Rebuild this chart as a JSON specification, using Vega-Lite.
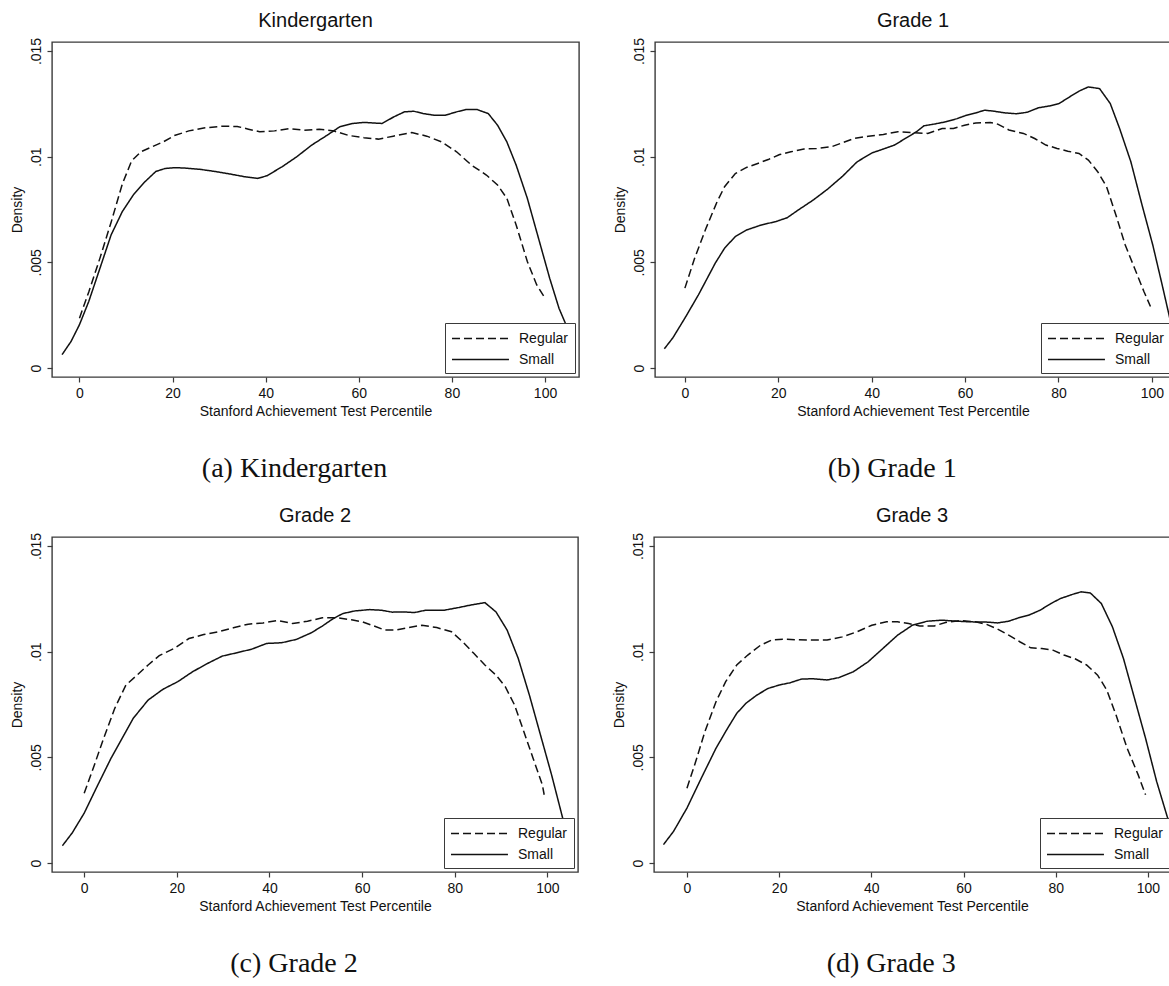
{
"$schema": "https://vega.github.io/schema/vega-lite/v6.json",
"background": "white",
"padding": {"left": 9, "top": 10, "right": 0, "bottom": 0},
"config": {
  "font": "Liberation Sans",
  "view": {"stroke": "#3a3a3a", "strokeWidth": 1.4},
  "axis": {"domain": false, "grid": false, "tickColor": "#3a3a3a", "tickSize": 5, "tickWidth": 1.2, "labelFontSize": 14, "labelColor": "#111", "labelFont": "Liberation Sans", "labelPadding": 4, "titleFontSize": 14, "titleFontWeight": "normal", "titleColor": "#111", "titleFont": "Liberation Sans", "titlePadding": 4, "labelFlush": false, "labelOverlap": false},
  "axisY": {"labelAngle": 270, "labelAlign": "center", "labelBaseline": "bottom", "titlePadding": 5},
  "legend": {"symbolType": "M-1,0H5.7", "symbolSize": 289, "symbolStrokeWidth": 1.4, "symbolStrokeColor": "#111", "symbolFillColor": "transparent", "labelFontSize": 14, "labelFont": "Liberation Sans", "labelColor": "#111", "strokeColor": "#3a3a3a", "fillColor": "white", "padding": 6, "rowPadding": 4, "labelOffset": 49, "cornerRadius": 0}
},
"datasets": {
  "a": [
    {"g":"Small","x":-3.75,"y":0.00063},{"g":"Small","x":-1.8,"y":0.00126},{"g":"Small","x":0,"y":0.00205},{"g":"Small","x":2,"y":0.00315},{"g":"Small","x":4.4,"y":0.00472},{"g":"Small","x":6.8,"y":0.0063},{"g":"Small","x":9.2,"y":0.0074},{"g":"Small","x":11.6,"y":0.0082},{"g":"Small","x":14,"y":0.0088},{"g":"Small","x":16.4,"y":0.0093},{"g":"Small","x":18.4,"y":0.00944},{"g":"Small","x":20.4,"y":0.00948},{"g":"Small","x":22.7,"y":0.00946},{"g":"Small","x":25.9,"y":0.0094},{"g":"Small","x":29.1,"y":0.0093},{"g":"Small","x":32.3,"y":0.00918},{"g":"Small","x":35.5,"y":0.00905},{"g":"Small","x":38.3,"y":0.00897},{"g":"Small","x":40.3,"y":0.0091},{"g":"Small","x":43.5,"y":0.00952},{"g":"Small","x":46.7,"y":0.01},{"g":"Small","x":49.9,"y":0.01055},{"g":"Small","x":53.1,"y":0.011},{"g":"Small","x":55.9,"y":0.01141},{"g":"Small","x":58.7,"y":0.01157},{"g":"Small","x":61.1,"y":0.01162},{"g":"Small","x":65,"y":0.01157},{"g":"Small","x":67.5,"y":0.01188},{"g":"Small","x":69.8,"y":0.01212},{"g":"Small","x":71.8,"y":0.01215},{"g":"Small","x":73.8,"y":0.01204},{"g":"Small","x":76.2,"y":0.01196},{"g":"Small","x":78.6,"y":0.01196},{"g":"Small","x":81,"y":0.01212},{"g":"Small","x":83,"y":0.01223},{"g":"Small","x":85.4,"y":0.01223},{"g":"Small","x":87.8,"y":0.01204},{"g":"Small","x":89.8,"y":0.01149},{"g":"Small","x":91.8,"y":0.0107},{"g":"Small","x":93.8,"y":0.0096},{"g":"Small","x":96.2,"y":0.00803},{"g":"Small","x":98.6,"y":0.00614},{"g":"Small","x":101,"y":0.00425},{"g":"Small","x":103,"y":0.00283},{"g":"Small","x":104.5,"y":0.00205},{"g":"Small","x":106,"y":0.0013},
    {"g":"Regular","x":0,"y":0.00236},{"g":"Regular","x":2,"y":0.0036},{"g":"Regular","x":4.4,"y":0.0052},{"g":"Regular","x":6.8,"y":0.0069},{"g":"Regular","x":9.2,"y":0.0087},{"g":"Regular","x":11.2,"y":0.0098},{"g":"Regular","x":13.2,"y":0.01023},{"g":"Regular","x":15.6,"y":0.01047},{"g":"Regular","x":18,"y":0.0107},{"g":"Regular","x":20.4,"y":0.011},{"g":"Regular","x":23.5,"y":0.01122},{"g":"Regular","x":26.7,"y":0.01136},{"g":"Regular","x":30.7,"y":0.01144},{"g":"Regular","x":33.9,"y":0.01143},{"g":"Regular","x":36.3,"y":0.0113},{"g":"Regular","x":38.7,"y":0.01118},{"g":"Regular","x":41.9,"y":0.01122},{"g":"Regular","x":45.1,"y":0.01133},{"g":"Regular","x":48.3,"y":0.01125},{"g":"Regular","x":51.5,"y":0.0113},{"g":"Regular","x":54.7,"y":0.01121},{"g":"Regular","x":57.9,"y":0.011},{"g":"Regular","x":61.1,"y":0.0109},{"g":"Regular","x":64.2,"y":0.01083},{"g":"Regular","x":67.4,"y":0.01097},{"g":"Regular","x":71.4,"y":0.01114},{"g":"Regular","x":74.6,"y":0.01097},{"g":"Regular","x":77.8,"y":0.0107},{"g":"Regular","x":81,"y":0.01023},{"g":"Regular","x":84.2,"y":0.0096},{"g":"Regular","x":87.4,"y":0.00913},{"g":"Regular","x":89.8,"y":0.00866},{"g":"Regular","x":91.8,"y":0.00803},{"g":"Regular","x":93.8,"y":0.00677},{"g":"Regular","x":96.2,"y":0.00504},{"g":"Regular","x":98.2,"y":0.00394},{"g":"Regular","x":99.8,"y":0.00338}
  ],
  "b": [
    {"g":"Small","x":-4.4,"y":0.00091},{"g":"Small","x":-2.6,"y":0.00142},{"g":"Small","x":0,"y":0.00236},{"g":"Small","x":2.9,"y":0.00346},{"g":"Small","x":6.5,"y":0.00496},{"g":"Small","x":8.5,"y":0.00567},{"g":"Small","x":10.8,"y":0.00622},{"g":"Small","x":13.2,"y":0.00653},{"g":"Small","x":16.4,"y":0.00677},{"g":"Small","x":19.5,"y":0.00693},{"g":"Small","x":21.9,"y":0.00711},{"g":"Small","x":24.3,"y":0.00748},{"g":"Small","x":27.5,"y":0.00795},{"g":"Small","x":30.6,"y":0.00847},{"g":"Small","x":33.8,"y":0.00908},{"g":"Small","x":36.9,"y":0.00976},{"g":"Small","x":40.1,"y":0.01018},{"g":"Small","x":42.5,"y":0.01036},{"g":"Small","x":44.9,"y":0.01055},{"g":"Small","x":47.2,"y":0.01086},{"g":"Small","x":49.6,"y":0.01118},{"g":"Small","x":51.2,"y":0.01146},{"g":"Small","x":53.6,"y":0.01155},{"g":"Small","x":55.9,"y":0.01165},{"g":"Small","x":58.3,"y":0.0118},{"g":"Small","x":60.3,"y":0.01196},{"g":"Small","x":62.3,"y":0.01207},{"g":"Small","x":64.2,"y":0.0122},{"g":"Small","x":66.2,"y":0.01215},{"g":"Small","x":68.6,"y":0.01207},{"g":"Small","x":71,"y":0.01203},{"g":"Small","x":73.3,"y":0.0121},{"g":"Small","x":75.7,"y":0.01231},{"g":"Small","x":78.1,"y":0.0124},{"g":"Small","x":80.1,"y":0.01251},{"g":"Small","x":82.4,"y":0.01283},{"g":"Small","x":84.4,"y":0.0131},{"g":"Small","x":86.4,"y":0.0133},{"g":"Small","x":88.8,"y":0.01322},{"g":"Small","x":91.1,"y":0.01251},{"g":"Small","x":93.1,"y":0.01133},{"g":"Small","x":95.5,"y":0.00976},{"g":"Small","x":97.9,"y":0.00771},{"g":"Small","x":100.2,"y":0.00582},{"g":"Small","x":102.2,"y":0.00394},{"g":"Small","x":104,"y":0.0022},{"g":"Small","x":105.5,"y":0.0013},
    {"g":"Regular","x":0,"y":0.00378},{"g":"Regular","x":2.1,"y":0.0052},{"g":"Regular","x":4.5,"y":0.0066},{"g":"Regular","x":6.9,"y":0.00787},{"g":"Regular","x":8.5,"y":0.00858},{"g":"Regular","x":10.8,"y":0.0092},{"g":"Regular","x":13.2,"y":0.00949},{"g":"Regular","x":15.6,"y":0.00968},{"g":"Regular","x":18,"y":0.00988},{"g":"Regular","x":20.3,"y":0.0101},{"g":"Regular","x":22.7,"y":0.01023},{"g":"Regular","x":25.5,"y":0.01036},{"g":"Regular","x":28.2,"y":0.01039},{"g":"Regular","x":31.4,"y":0.01047},{"g":"Regular","x":33.8,"y":0.01066},{"g":"Regular","x":36.2,"y":0.01086},{"g":"Regular","x":39.3,"y":0.01097},{"g":"Regular","x":42.5,"y":0.01105},{"g":"Regular","x":45.6,"y":0.01118},{"g":"Regular","x":48.8,"y":0.01113},{"g":"Regular","x":52,"y":0.0111},{"g":"Regular","x":55.1,"y":0.01133},{"g":"Regular","x":57.5,"y":0.01133},{"g":"Regular","x":59.9,"y":0.01149},{"g":"Regular","x":62.3,"y":0.01159},{"g":"Regular","x":65.4,"y":0.01162},{"g":"Regular","x":67,"y":0.01154},{"g":"Regular","x":69.4,"y":0.01126},{"g":"Regular","x":72.5,"y":0.0111},{"g":"Regular","x":74.9,"y":0.01086},{"g":"Regular","x":77.3,"y":0.01055},{"g":"Regular","x":79.7,"y":0.01039},{"g":"Regular","x":82,"y":0.01026},{"g":"Regular","x":84.4,"y":0.01015},{"g":"Regular","x":86.4,"y":0.00984},{"g":"Regular","x":88.4,"y":0.00929},{"g":"Regular","x":90.3,"y":0.00858},{"g":"Regular","x":92.3,"y":0.00724},{"g":"Regular","x":94.3,"y":0.00582},{"g":"Regular","x":96.3,"y":0.00472},{"g":"Regular","x":98.3,"y":0.00362},{"g":"Regular","x":99.7,"y":0.00291}
  ],
  "c": [
    {"g":"Small","x":-4.7,"y":0.00082},{"g":"Small","x":-2.6,"y":0.00142},{"g":"Small","x":0,"y":0.00236},{"g":"Small","x":2.6,"y":0.00354},{"g":"Small","x":5.8,"y":0.00496},{"g":"Small","x":9,"y":0.00622},{"g":"Small","x":10.6,"y":0.00685},{"g":"Small","x":13.8,"y":0.00771},{"g":"Small","x":17,"y":0.00822},{"g":"Small","x":20.2,"y":0.00858},{"g":"Small","x":23.4,"y":0.00905},{"g":"Small","x":26.6,"y":0.00944},{"g":"Small","x":29.8,"y":0.00979},{"g":"Small","x":33,"y":0.00995},{"g":"Small","x":36.2,"y":0.01012},{"g":"Small","x":39.4,"y":0.01039},{"g":"Small","x":42.6,"y":0.01042},{"g":"Small","x":45.8,"y":0.01058},{"g":"Small","x":49,"y":0.01089},{"g":"Small","x":51.4,"y":0.01121},{"g":"Small","x":53.8,"y":0.01157},{"g":"Small","x":55.8,"y":0.0118},{"g":"Small","x":58.5,"y":0.01193},{"g":"Small","x":61.7,"y":0.01199},{"g":"Small","x":64.1,"y":0.01196},{"g":"Small","x":66.5,"y":0.01187},{"g":"Small","x":68.9,"y":0.01188},{"g":"Small","x":71.3,"y":0.01185},{"g":"Small","x":73.7,"y":0.01196},{"g":"Small","x":77.7,"y":0.01196},{"g":"Small","x":80.9,"y":0.01209},{"g":"Small","x":83.3,"y":0.0122},{"g":"Small","x":86.5,"y":0.01232},{"g":"Small","x":88.9,"y":0.01188},{"g":"Small","x":91.3,"y":0.01102},{"g":"Small","x":93.7,"y":0.00968},{"g":"Small","x":96.1,"y":0.00795},{"g":"Small","x":98.5,"y":0.00606},{"g":"Small","x":100.9,"y":0.00417},{"g":"Small","x":103.3,"y":0.00212},{"g":"Small","x":104.8,"y":0.0012},
    {"g":"Regular","x":0,"y":0.0033},{"g":"Regular","x":2.2,"y":0.00464},{"g":"Regular","x":4.2,"y":0.0059},{"g":"Regular","x":6.6,"y":0.00732},{"g":"Regular","x":9,"y":0.00842},{"g":"Regular","x":11.4,"y":0.00889},{"g":"Regular","x":13.8,"y":0.00937},{"g":"Regular","x":16.2,"y":0.00981},{"g":"Regular","x":19.4,"y":0.01015},{"g":"Regular","x":22.6,"y":0.01062},{"g":"Regular","x":25.8,"y":0.01081},{"g":"Regular","x":29,"y":0.01094},{"g":"Regular","x":32.2,"y":0.01113},{"g":"Regular","x":35.4,"y":0.0113},{"g":"Regular","x":38.6,"y":0.01136},{"g":"Regular","x":41.8,"y":0.01147},{"g":"Regular","x":45,"y":0.01133},{"g":"Regular","x":48.2,"y":0.01144},{"g":"Regular","x":51.4,"y":0.0116},{"g":"Regular","x":54.6,"y":0.0116},{"g":"Regular","x":57.7,"y":0.01151},{"g":"Regular","x":60.1,"y":0.01141},{"g":"Regular","x":62.5,"y":0.01122},{"g":"Regular","x":64.9,"y":0.01102},{"g":"Regular","x":67.3,"y":0.01102},{"g":"Regular","x":69.7,"y":0.01113},{"g":"Regular","x":72.9,"y":0.01125},{"g":"Regular","x":76.1,"y":0.01114},{"g":"Regular","x":79.3,"y":0.01094},{"g":"Regular","x":81.7,"y":0.01047},{"g":"Regular","x":84.1,"y":0.00992},{"g":"Regular","x":86.5,"y":0.00937},{"g":"Regular","x":88.9,"y":0.00889},{"g":"Regular","x":90.9,"y":0.00834},{"g":"Regular","x":92.9,"y":0.00748},{"g":"Regular","x":94.9,"y":0.00622},{"g":"Regular","x":96.9,"y":0.00496},{"g":"Regular","x":98.9,"y":0.0037},{"g":"Regular","x":99.3,"y":0.00323}
  ],
  "d": [
    {"g":"Small","x":-5.1,"y":0.00087},{"g":"Small","x":-2.9,"y":0.0015},{"g":"Small","x":0,"y":0.0026},{"g":"Small","x":3.1,"y":0.00401},{"g":"Small","x":6.3,"y":0.00543},{"g":"Small","x":8.8,"y":0.00637},{"g":"Small","x":10.8,"y":0.00708},{"g":"Small","x":12.8,"y":0.00756},{"g":"Small","x":15.2,"y":0.00795},{"g":"Small","x":17.6,"y":0.00826},{"g":"Small","x":20,"y":0.00842},{"g":"Small","x":22.4,"y":0.00853},{"g":"Small","x":24.8,"y":0.0087},{"g":"Small","x":27.2,"y":0.00872},{"g":"Small","x":30.4,"y":0.00866},{"g":"Small","x":32.9,"y":0.00877},{"g":"Small","x":36.1,"y":0.00905},{"g":"Small","x":39.3,"y":0.00952},{"g":"Small","x":42.5,"y":0.01015},{"g":"Small","x":45.7,"y":0.01078},{"g":"Small","x":48.9,"y":0.01125},{"g":"Small","x":52.1,"y":0.01144},{"g":"Small","x":55.3,"y":0.01149},{"g":"Small","x":58.6,"y":0.01144},{"g":"Small","x":61.8,"y":0.01141},{"g":"Small","x":65,"y":0.0114},{"g":"Small","x":67.4,"y":0.01136},{"g":"Small","x":69.8,"y":0.01144},{"g":"Small","x":72.2,"y":0.01162},{"g":"Small","x":74.2,"y":0.01173},{"g":"Small","x":76.6,"y":0.01196},{"g":"Small","x":79,"y":0.01228},{"g":"Small","x":81,"y":0.01251},{"g":"Small","x":83.5,"y":0.0127},{"g":"Small","x":85.5,"y":0.01283},{"g":"Small","x":87.5,"y":0.01278},{"g":"Small","x":89.9,"y":0.01228},{"g":"Small","x":92.3,"y":0.01118},{"g":"Small","x":94.7,"y":0.00968},{"g":"Small","x":97.1,"y":0.00779},{"g":"Small","x":99.5,"y":0.0059},{"g":"Small","x":101.9,"y":0.00386},{"g":"Small","x":104.3,"y":0.00212},{"g":"Small","x":105.5,"y":0.0012},
    {"g":"Regular","x":0,"y":0.00354},{"g":"Regular","x":1.9,"y":0.0048},{"g":"Regular","x":3.9,"y":0.00622},{"g":"Regular","x":6.3,"y":0.00763},{"g":"Regular","x":8.4,"y":0.00858},{"g":"Regular","x":10.8,"y":0.00937},{"g":"Regular","x":13.2,"y":0.00984},{"g":"Regular","x":16,"y":0.01031},{"g":"Regular","x":18.4,"y":0.01055},{"g":"Regular","x":20.8,"y":0.01059},{"g":"Regular","x":24,"y":0.01056},{"g":"Regular","x":27.2,"y":0.01055},{"g":"Regular","x":30.4,"y":0.01055},{"g":"Regular","x":33.7,"y":0.0107},{"g":"Regular","x":36.9,"y":0.01094},{"g":"Regular","x":40.1,"y":0.01125},{"g":"Regular","x":43.3,"y":0.01141},{"g":"Regular","x":45.7,"y":0.01141},{"g":"Regular","x":48.1,"y":0.01133},{"g":"Regular","x":50.5,"y":0.01122},{"g":"Regular","x":53.7,"y":0.01122},{"g":"Regular","x":56.1,"y":0.01138},{"g":"Regular","x":59.4,"y":0.01147},{"g":"Regular","x":62.6,"y":0.01141},{"g":"Regular","x":65,"y":0.01129},{"g":"Regular","x":67.4,"y":0.01107},{"g":"Regular","x":69.8,"y":0.01078},{"g":"Regular","x":72.2,"y":0.01047},{"g":"Regular","x":74.6,"y":0.01018},{"g":"Regular","x":77,"y":0.01015},{"g":"Regular","x":79.4,"y":0.01007},{"g":"Regular","x":81.8,"y":0.00984},{"g":"Regular","x":84.3,"y":0.00965},{"g":"Regular","x":86.7,"y":0.00937},{"g":"Regular","x":89.1,"y":0.00889},{"g":"Regular","x":91.1,"y":0.00818},{"g":"Regular","x":93.1,"y":0.007},{"g":"Regular","x":95.5,"y":0.00543},{"g":"Regular","x":97.9,"y":0.00417},{"g":"Regular","x":99.5,"y":0.00323}
  ]
},
"resolve": {"scale": {"x": "independent", "y": "independent", "strokeDash": "independent"}, "legend": {"strokeDash": "independent"}},
"spacing": 22,
"vconcat": [
  {
    "spacing": 32,
    "resolve": {"scale": {"x": "independent", "y": "independent", "strokeDash": "independent"}, "legend": {"strokeDash": "independent"}},
    "hconcat": [
      {
        "title": {"text": "(a) Kindergarten", "orient": "bottom", "anchor": "middle", "font": "Liberation Serif", "fontSize": 28, "fontWeight": "normal", "color": "#111", "offset": 36},
        "resolve": {"scale": {"x": "independent", "y": "independent", "strokeDash": "independent"}, "legend": {"strokeDash": "independent"}},
        "vconcat": [
          {
            "title": {"text": "Kindergarten", "frame": "group", "anchor": "middle", "fontSize": 20, "fontWeight": "normal", "font": "Liberation Sans", "color": "#111", "offset": 6},
            "width": 527, "height": 335,
            "data": {"name": "a"},
            "mark": {"type": "line", "clip": true, "strokeWidth": 1.5, "color": "#111"},
            "encoding": {
              "x": {"field": "x", "type": "quantitative", "scale": {"domain": [-5.9, 107.3], "nice": false, "zero": false}, "axis": {"values": [0, 20, 40, 60, 80, 100], "title": "Stanford Achievement Test Percentile"}},
              "y": {"field": "y", "type": "quantitative", "scale": {"domain": [-0.000425, 0.015425], "nice": false, "zero": false}, "axis": {"values": [0, 0.005, 0.01, 0.015], "title": "Density", "labelExpr": "datum.value == 0 ? '0' : slice(format(datum.value, '.3~f'), 1)"}},
              "strokeDash": {"field": "g", "type": "nominal", "scale": {"domain": ["Regular", "Small"], "range": [[8, 4], [1, 0]]}, "legend": {"orient": "none", "legendX": 393, "legendY": 281, "title": null}}
            }
          }
        ]
      },
      {
        "title": {"text": "(b) Grade 1", "orient": "bottom", "anchor": "middle", "font": "Liberation Serif", "fontSize": 28, "fontWeight": "normal", "color": "#111", "offset": 36},
        "resolve": {"scale": {"x": "independent", "y": "independent", "strokeDash": "independent"}, "legend": {"strokeDash": "independent"}},
        "vconcat": [
          {
            "title": {"text": "Grade 1", "frame": "group", "anchor": "middle", "fontSize": 20, "fontWeight": "normal", "font": "Liberation Sans", "color": "#111", "offset": 6},
            "width": 516, "height": 335,
            "data": {"name": "b"},
            "mark": {"type": "line", "clip": true, "strokeWidth": 1.5, "color": "#111"},
            "encoding": {
              "x": {"field": "x", "type": "quantitative", "scale": {"domain": [-6.4, 104.1], "nice": false, "zero": false}, "axis": {"values": [0, 20, 40, 60, 80, 100], "title": "Stanford Achievement Test Percentile"}},
              "y": {"field": "y", "type": "quantitative", "scale": {"domain": [-0.000425, 0.015425], "nice": false, "zero": false}, "axis": {"values": [0, 0.005, 0.01, 0.015], "title": "Density", "labelExpr": "datum.value == 0 ? '0' : slice(format(datum.value, '.3~f'), 1)"}},
              "strokeDash": {"field": "g", "type": "nominal", "scale": {"domain": ["Regular", "Small"], "range": [[8, 4], [1, 0]]}, "legend": {"orient": "none", "legendX": 386, "legendY": 281, "title": null}}
            }
          }
        ]
      }
    ]
  },
  {
    "spacing": 32,
    "resolve": {"scale": {"x": "independent", "y": "independent", "strokeDash": "independent"}, "legend": {"strokeDash": "independent"}},
    "hconcat": [
      {
        "title": {"text": "(c) Grade 2", "orient": "bottom", "anchor": "middle", "font": "Liberation Serif", "fontSize": 28, "fontWeight": "normal", "color": "#111", "offset": 36},
        "resolve": {"scale": {"x": "independent", "y": "independent", "strokeDash": "independent"}, "legend": {"strokeDash": "independent"}},
        "vconcat": [
          {
            "title": {"text": "Grade 2", "frame": "group", "anchor": "middle", "fontSize": 20, "fontWeight": "normal", "font": "Liberation Sans", "color": "#111", "offset": 6},
            "width": 526, "height": 335,
            "data": {"name": "c"},
            "mark": {"type": "line", "clip": true, "strokeWidth": 1.5, "color": "#111"},
            "encoding": {
              "x": {"field": "x", "type": "quantitative", "scale": {"domain": [-6.95, 106.6], "nice": false, "zero": false}, "axis": {"values": [0, 20, 40, 60, 80, 100], "title": "Stanford Achievement Test Percentile"}},
              "y": {"field": "y", "type": "quantitative", "scale": {"domain": [-0.000425, 0.015425], "nice": false, "zero": false}, "axis": {"values": [0, 0.005, 0.01, 0.015], "title": "Density", "labelExpr": "datum.value == 0 ? '0' : slice(format(datum.value, '.3~f'), 1)"}},
              "strokeDash": {"field": "g", "type": "nominal", "scale": {"domain": ["Regular", "Small"], "range": [[8, 4], [1, 0]]}, "legend": {"orient": "none", "legendX": 392, "legendY": 281, "title": null}}
            }
          }
        ]
      },
      {
        "title": {"text": "(d) Grade 3", "orient": "bottom", "anchor": "middle", "font": "Liberation Serif", "fontSize": 28, "fontWeight": "normal", "color": "#111", "offset": 36},
        "resolve": {"scale": {"x": "independent", "y": "independent", "strokeDash": "independent"}, "legend": {"strokeDash": "independent"}},
        "vconcat": [
          {
            "title": {"text": "Grade 3", "frame": "group", "anchor": "middle", "fontSize": 20, "fontWeight": "normal", "font": "Liberation Sans", "color": "#111", "offset": 6},
            "width": 516, "height": 335,
            "data": {"name": "d"},
            "mark": {"type": "line", "clip": true, "strokeWidth": 1.5, "color": "#111"},
            "encoding": {
              "x": {"field": "x", "type": "quantitative", "scale": {"domain": [-7.15, 104.8], "nice": false, "zero": false}, "axis": {"values": [0, 20, 40, 60, 80, 100], "title": "Stanford Achievement Test Percentile"}},
              "y": {"field": "y", "type": "quantitative", "scale": {"domain": [-0.000425, 0.015425], "nice": false, "zero": false}, "axis": {"values": [0, 0.005, 0.01, 0.015], "title": "Density", "labelExpr": "datum.value == 0 ? '0' : slice(format(datum.value, '.3~f'), 1)"}},
              "strokeDash": {"field": "g", "type": "nominal", "scale": {"domain": ["Regular", "Small"], "range": [[8, 4], [1, 0]]}, "legend": {"orient": "none", "legendX": 386, "legendY": 281, "title": null}}
            }
          }
        ]
      }
    ]
  }
]
}
